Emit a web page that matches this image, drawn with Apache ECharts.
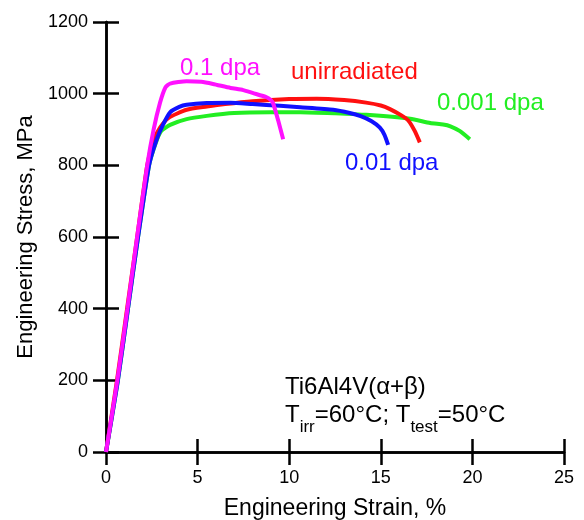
<!DOCTYPE html>
<html><head><meta charset="utf-8">
<script src="https://cdn.jsdelivr.net/npm/echarts@6/dist/echarts.min.js"></script>
<style>html,body{margin:0;padding:0;background:#fff}#c{width:584px;height:520px}</style>
</head><body><div id="c"></div>
<script>
const FONT = '"Liberation Sans", Arial, sans-serif';

// axis settings (values)
const xMin = 0, xMax = 25, xStep = 5;
const yMin = 0, yMax = 1200, yStep = 200;

// unirradiated (red)
const unirrStrain = [0, 0.6, 1.15, 1.7, 2.25, 2.6, 2.95, 3.4, 4.4, 5.5, 6.5, 8, 10, 11.5, 13, 14.2, 15, 15.5, 16.1, 16.5, 16.85, 17.13];
const unirrStress = [0, 200, 400, 600, 800, 870, 905, 932, 955, 964, 971, 979, 985, 986, 982, 975, 967, 957, 940, 925, 896, 864];

// 0.001 dpa (green)
const d0001Strain = [0, 0.65, 1.2, 1.75, 2.35, 2.7, 3.0, 3.5, 4.4, 5.5, 7, 9, 10.6, 12.5, 14.2, 16.6, 17.7, 18.4, 18.8, 19.3, 19.86];
const d0001Stress = [0, 200, 400, 600, 800, 860, 895, 913, 929, 938, 946, 948, 948, 945, 941, 930, 918, 914, 909, 896, 873];

// 0.01 dpa (blue)
const d001Strain = [0, 0.65, 1.2, 1.75, 2.35, 2.75, 3.1, 3.5, 4.0, 4.4, 5.5, 6.8, 8, 9.5, 10.6, 12.4, 13.3, 13.9, 14.5, 14.95, 15.2, 15.4];
const d001Stress = [0, 200, 400, 600, 800, 870, 912, 948, 963, 969, 974, 975, 971, 966, 962, 955, 946, 937, 923, 905, 885, 857];

// 0.1 dpa (magenta)
const d01Strain = [0, 0.62, 1.17, 1.7, 2.25, 2.6, 2.95, 3.25, 3.5, 4.4, 5.2, 5.84, 6.8, 7.49, 8.0, 8.77, 9.0, 9.13, 9.4, 9.67];
const d01Stress = [0, 200, 400, 600, 800, 900, 975, 1018, 1028, 1035, 1033, 1027, 1016, 1010, 1002, 990, 982, 972, 925, 873];

const seriesNames = ['0.001 dpa', 'unirradiated', '0.01 dpa', '0.1 dpa'];
const seriesColors = ['#22ee22', '#ff1010', '#1010ff', '#ff10ff'];
const seriesX = [d0001Strain, unirrStrain, d001Strain, d01Strain];
const seriesY = [d0001Stress, unirrStress, d001Stress, d01Stress];

const chart = echarts.init(document.getElementById('c'), null, {renderer: 'canvas'});

const axisLine = {show: true, lineStyle: {color: '#000', width: 2.5}};
const tick = {show: true, inside: true, length: 13, lineStyle: {color: '#000', width: 2.5}};

function xa(pos, showLabel) {
  return {
    type: 'value', position: pos, min: xMin, max: xMax, interval: xStep,
    axisLine: axisLine, axisTick: tick, splitLine: {show: false},
    axisLabel: {show: showLabel, fontSize: 18, color: '#000', fontFamily: FONT, margin: 17},
    name: showLabel ? 'Engineering Strain, %' : '', nameLocation: 'middle', nameGap: 45,
    nameTextStyle: {fontSize: 23, color: '#000', fontFamily: FONT}
  };
}
function ya(pos, showLabel) {
  return {
    type: 'value', position: pos, min: yMin, max: yMax, interval: yStep,
    axisLine: axisLine, axisTick: tick, splitLine: {show: false},
    axisLabel: {show: showLabel, fontSize: 18, color: '#000', fontFamily: FONT, margin: 18,
      formatter: function (v) { return String(v); }},
    name: showLabel ? 'Engineering Stress, MPa' : '', nameLocation: 'middle', nameGap: 57,
    nameTextStyle: {fontSize: 22, color: '#000', fontFamily: FONT}
  };
}

const series = seriesNames.map((n, k) => ({
  name: n, type: 'line', xAxisIndex: 0, yAxisIndex: 0,
  data: seriesX[k].map((x, i) => [x, seriesY[k][i]]),
  showSymbol: false, smooth: 0.2,
  lineStyle: {color: seriesColors[k], width: 4},
  itemStyle: {color: seriesColors[k]},
  z: 2 + k
}));

function lbl(text, x, y, color) {
  return {type: 'text', x: x, y: y, z: 100,
    style: {text: text, fill: color, font: '24px ' + FONT, textVerticalAlign: 'middle', textAlign: 'left'}};
}

chart.setOption({
  animation: false,
  backgroundColor: '#fff',
  grid: {left: 106, right: 20, top: 22, bottom: 68, containLabel: false, outerBoundsMode: 'none'},
  xAxis: [xa('bottom', true), xa('top', false)],
  yAxis: [ya('left', true), ya('right', false)],
  series: series,
  graphic: [
    lbl('0.1 dpa', 180, 68, seriesColors[3]),
    lbl('unirradiated', 291, 72, seriesColors[1]),
    lbl('0.001 dpa', 437, 103, seriesColors[0]),
    lbl('0.01 dpa', 345, 163, seriesColors[2]),
    lbl('Ti6Al4V(\u03b1+\u03b2)', 285, 387, '#000'),
    {type: 'text', x: 285, y: 403, z: 100,
     style: {
       text: '{a|T}{s|irr}{a|=60\u00b0C; T}{s|test}{a|=50\u00b0C}',
       rich: {
         a: {fontSize: 24, fontFamily: FONT, fill: '#000', color: '#000', lineHeight: 28, verticalAlign: 'top'},
         s: {fontSize: 17, fontFamily: FONT, fill: '#000', color: '#000', verticalAlign: 'bottom', padding: [16, 0, 0, 0]}
       }
     }}
  ]
});
</script>
</body></html>
